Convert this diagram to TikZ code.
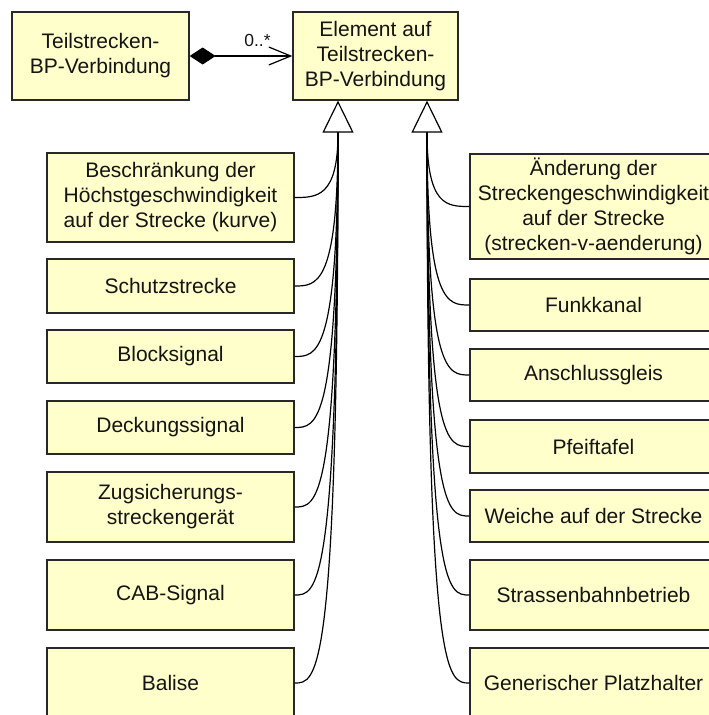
\documentclass[tikz,border=0pt]{standalone}
\usepackage{fontspec}
\setmainfont{Liberation Sans}
\usetikzlibrary{arrows.meta}
\definecolor{boxfill}{RGB}{255,255,204}
\definecolor{boxline}{RGB}{40,40,40}
\definecolor{txt}{RGB}{20,20,20}
\tikzset{
  cls/.style={draw=boxline, fill=boxfill, line width=1.3pt, align=center, text=txt,
    font=\fontsize{21}{25}\selectfont, inner sep=0pt, minimum width=247pt},
  gen/.style={line width=1.2pt, draw=black},
  mult/.style={text=txt, font=\fontsize{17.5}{20}\selectfont, inner sep=0pt},
}
\begin{document}
\begin{tikzpicture}[x=1pt,y=-1pt]
\useasboundingbox (0,0) rectangle (709,715);
\clip (0,0) rectangle (709,715);

% top classes
\node[cls, minimum width=177pt, minimum height=88pt] (tb) at (100.5,56) {Teilstrecken-\\BP-Verbindung};
\node[cls, minimum width=165pt, minimum height=88pt] (el) at (375.5,56) {Element auf\\Teilstrecken-\\BP-Verbindung};

% left subclasses
\node[cls, minimum height=89pt] (l1) at (170.5,197.5) {Beschränkung der\\Höchstgeschwindigkeit\\auf der Strecke (kurve)};
\node[cls, minimum height=54pt] (l2) at (170.5,286) {Schutzstrecke};
\node[cls, minimum height=53pt] (l3) at (170.5,356.5) {Blocksignal};
\node[cls, minimum height=53pt] (l4) at (170.5,427.5) {Deckungssignal};
\node[cls, minimum height=70pt] (l5) at (170.5,507) {Zugsicherungs-\\streckengerät};
\node[cls, minimum height=70pt] (l6) at (170.5,595) {CAB-Signal};
\node[cls, minimum height=70pt] (l7) at (170.5,683) {Balise};

% right subclasses
\node[cls, minimum height=105pt] (r1) at (593.5,206.5) {Änderung der\\Streckengeschwindigkeit\\auf der Strecke\\(strecken-v-aenderung)};
\node[cls, minimum height=52pt] (r2) at (593.5,305) {Funkkanal};
\node[cls, minimum height=52pt] (r3) at (593.5,375) {Anschlussgleis};
\node[cls, minimum height=53pt] (r4) at (593.5,446.5) {Pfeiftafel};
\node[cls, minimum height=52pt] (r5) at (593.5,516) {Weiche auf der Strecke};
\node[cls, minimum height=70pt] (r6) at (593.5,595) {Strassenbahnbetrieb};
\node[cls, minimum height=70pt] (r7) at (593.5,683) {Generischer Platzhalter};

% composition
\draw[gen, {Diamond[length=26pt,width=17pt]}-{Straight Barb[length=22pt,width=18pt]}] (tb.east) -- (el.west);
\node[mult] (m) at (257.5,40) {0..*};

% generalization junctions
\coordinate (gl) at (338,133);
\coordinate (gr) at (427,133);

\foreach \n in {l1,l2,l3,l4,l5,l6,l7}{
  \draw[gen] (\n.east) .. controls ([xshift=22pt]\n.east) and (gl |- \n.east) .. (gl);
}
\foreach \n in {r1,r2,r3,r4,r5,r6,r7}{
  \draw[gen] (\n.west) .. controls ([xshift=-22pt]\n.west) and (gr |- \n.west) .. (gr);
}

\draw[gen, -{Triangle[open, length=32pt, width=31pt, fill=white]}] (gl) -- (gl |- el.south);
\draw[gen, -{Triangle[open, length=32pt, width=31pt, fill=white]}] (gr) -- (gr |- el.south);
\end{tikzpicture}
\end{document}
